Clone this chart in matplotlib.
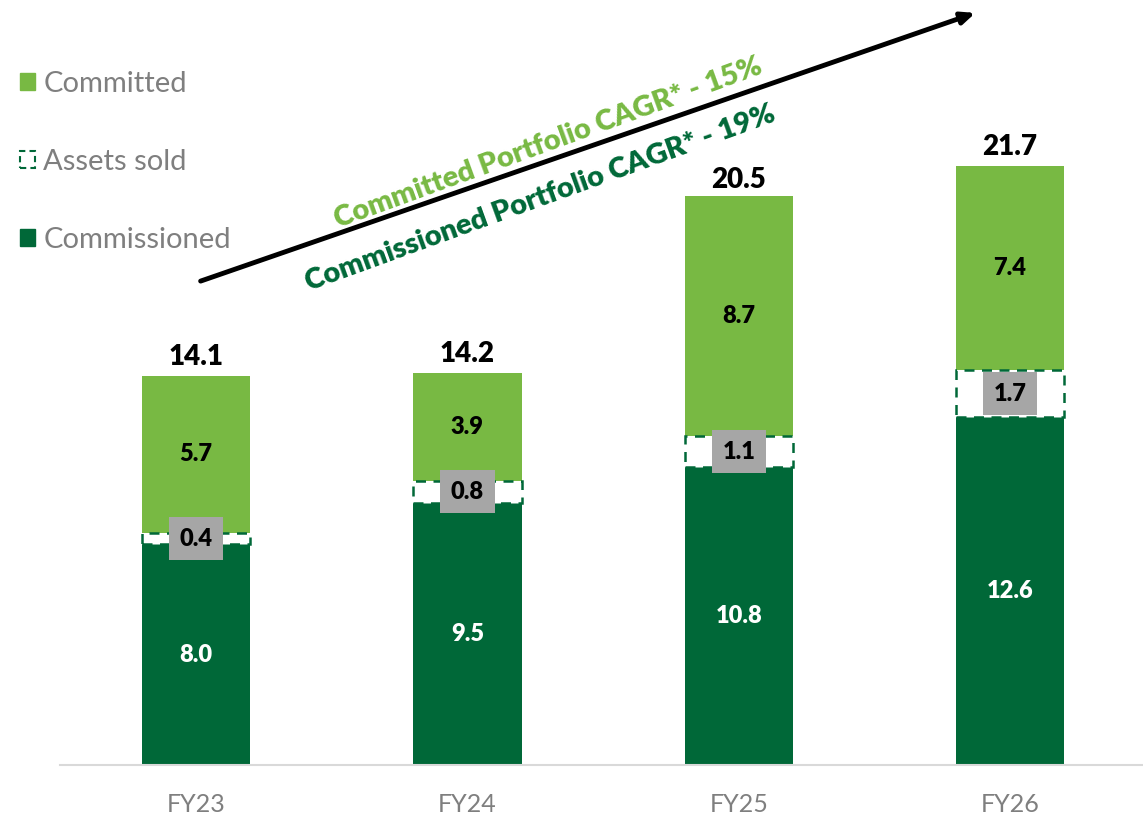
import matplotlib.pyplot as plt
from matplotlib.patches import Patch
import numpy as np

plt.rcParams['font.family'] = ['Lato', 'DejaVu Sans']

# portfolio (GW) per year
years = ["FY23", "FY24", "FY25", "FY26"]
commissioned = [8.0, 9.5, 10.8, 12.6]
assets_sold = [0.4, 0.8, 1.1, 1.7]
committed = [5.7, 3.9, 8.7, 7.4]
totals = [14.1, 14.2, 20.5, 21.7]

light = "#78B943"
dark = "#006838"
grey_txt = "#7F7F7F"

fig = plt.figure(figsize=(11.43, 8.17), dpi=100)
ax = fig.add_axes([60/1143, 52/817, 1083/1143, 765/817])

x = np.arange(len(years))
w = 0.4
com = np.array(commissioned)
sold = np.array(assets_sold)
cmt = np.array(committed)

ax.bar(x, com, w, color=dark, zorder=2)
ax.bar(x, sold, w, bottom=com, color="white", edgecolor=dark,
       linestyle=(0, (4, 3)), linewidth=1.8, zorder=3)
ax.bar(x, cmt, w, bottom=com + sold, color=light, zorder=2)

for i in range(len(years)):
    ax.text(x[i], com[i] / 2, f"{commissioned[i]:.1f}", ha="center", va="center",
            color="white", fontsize=17, fontweight="heavy", zorder=4)
    ax.text(x[i], com[i] + sold[i] / 2, f"{assets_sold[i]:.1f}", ha="center", va="center",
            color="black", fontsize=17, fontweight="heavy", zorder=5,
            bbox=dict(boxstyle="square,pad=0.45", fc="#A6A6A6", ec="none"))
    ax.text(x[i], com[i] + sold[i] + cmt[i] / 2, f"{committed[i]:.1f}", ha="center",
            va="center", color="black", fontsize=17, fontweight="heavy", zorder=4)
    ax.text(x[i], totals[i] + 0.2, f"{totals[i]:.1f}", ha="center", va="bottom",
            color="black", fontsize=20, fontweight="heavy", zorder=4)

ax.set_xlim(-0.502, 3.49)
ax.set_ylim(0, 27.7)
ax.set_xticks(x)
ax.set_xticklabels(years, fontsize=18, color=grey_txt)
ax.tick_params(axis="x", length=0, pad=20)
ax.set_yticks([])
for s in ["top", "right", "left"]:
    ax.spines[s].set_visible(False)
ax.spines["bottom"].set_color("#D9D9D9")
ax.spines["bottom"].set_linewidth(1.5)

# growth arrow with CAGR notes
ax.annotate("", xy=(978/1143, 1 - 12/817), xytext=(198/1143, 1 - 282/817),
            xycoords="figure fraction", textcoords="figure fraction",
            arrowprops=dict(arrowstyle="-|>,head_length=0.8,head_width=0.35",
                            color="black", lw=3.5))
fig.text(548/1143, 1 - 143/817, "Committed Portfolio CAGR* - 15%", color=light,
         fontsize=21, fontweight="heavy", rotation=20, ha="center", va="center")
fig.text(540/1143, 1 - 198/817, "Commissioned Portfolio CAGR* - 19%", color=dark,
         fontsize=21, fontweight="heavy", rotation=20, ha="center", va="center")

# legend
handles = [Patch(facecolor=light, edgecolor=light),
           Patch(facecolor="white", edgecolor=dark, linestyle=(0, (3, 2)), linewidth=1.5),
           Patch(facecolor=dark, edgecolor=dark)]
labels = ["Committed", "Assets sold", "Commissioned"]
leg = fig.legend(handles, labels, loc="upper left", bbox_to_anchor=(20/1143, 1 - 71/817),
                 frameon=False, fontsize=21, labelspacing=1.78, handlelength=0.5,
                 handleheight=0.5, handletextpad=0.3, borderpad=0, borderaxespad=0)
for t in leg.get_texts():
    t.set_color(grey_txt)

fig.savefig("out.png", dpi=100)
